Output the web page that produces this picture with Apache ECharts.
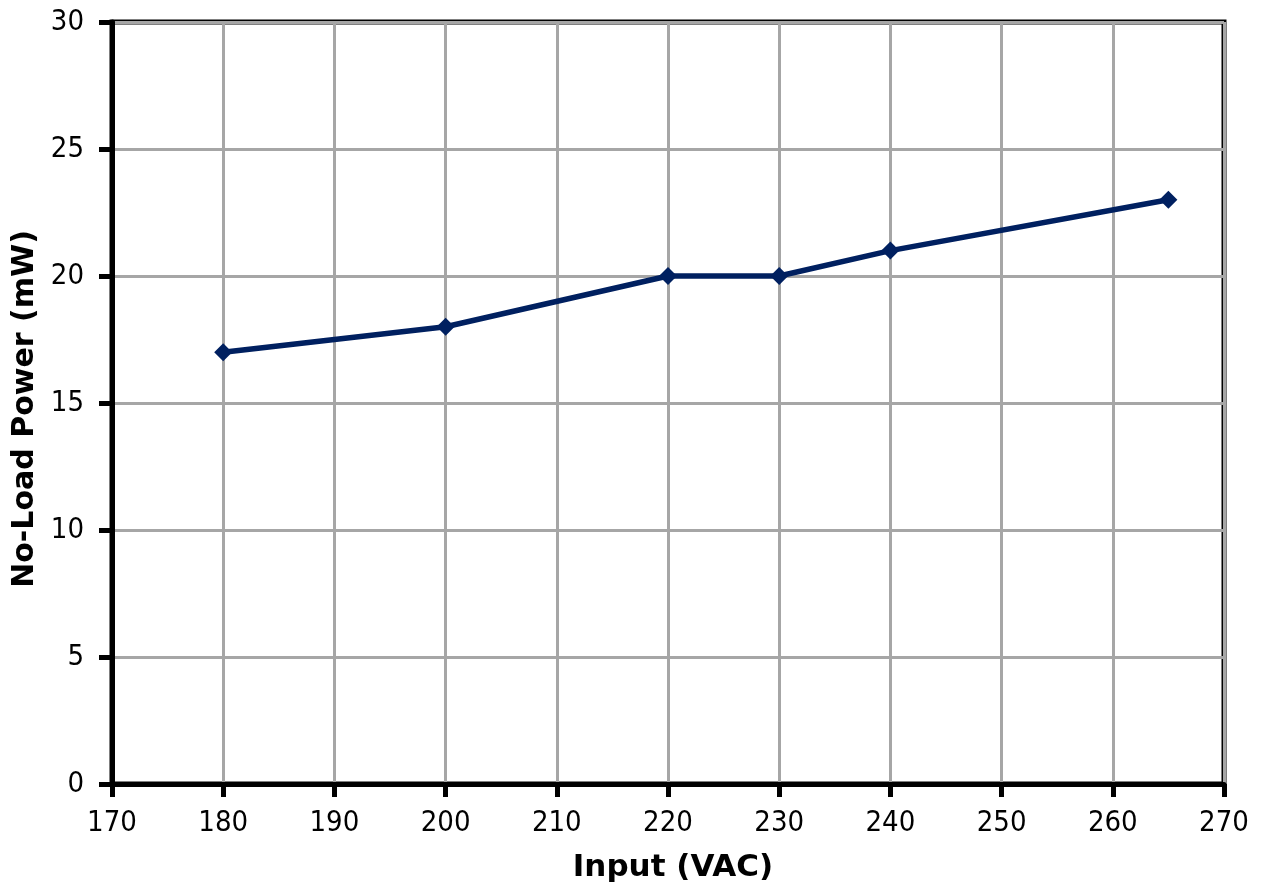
<!DOCTYPE html>
<html><head><meta charset="utf-8">
<script src="https://cdn.jsdelivr.net/npm/echarts@6/dist/echarts.min.js"></script>
<style>html,body{margin:0;padding:0;background:#fff}#c{width:1266px;height:888px}</style>
</head><body><div id="c"></div>
<script>
const inputVAC = [180, 200, 220, 230, 240, 265];
const noLoadPower = [17, 18, 20, 20, 21, 23];
const xTitle = 'Input (VAC)';
const yTitle = 'No-Load Power (mW)';

const chart = echarts.init(document.getElementById('c'));
const lblFont = '"DejaVu Sans Condensed", "DejaVu Sans", sans-serif';
const ttlFont = '"DejaVu Sans", sans-serif';
chart.setOption({
  animation: false,
  grid: { left: 112, right: 42, top: 22, bottom: 104, show: true, borderColor: '#000', borderWidth: 5, backgroundColor: '#fff' },
  xAxis: {
    type: 'value', min: 170, max: 270, interval: 10,
    name: xTitle, nameLocation: 'middle', nameGap: 68,
    nameTextStyle: { fontFamily: ttlFont, fontWeight: 'bold', fontSize: 31, color: '#000', padding: [0, 0, 0, 10] },
    axisLine: { show: true, lineStyle: { color: '#000', width: 5 } },
    axisTick: { show: true, length: 13, lineStyle: { color: '#000', width: 5 } },
    axisLabel: { fontFamily: lblFont, fontSize: 29, color: '#000', margin: 25 },
    splitLine: { show: true, lineStyle: { color: '#a6a6a6', width: 3 } }
  },
  yAxis: {
    type: 'value', min: 0, max: 30, interval: 5,
    name: yTitle, nameLocation: 'middle', nameGap: 67,
    nameTextStyle: { fontFamily: ttlFont, fontWeight: 'bold', fontSize: 30, color: '#000', padding: [0, 12, 0, 0] },
    axisLine: { show: true, lineStyle: { color: '#000', width: 5 } },
    axisTick: { show: true, length: 13, lineStyle: { color: '#000', width: 5 } },
    axisLabel: { fontFamily: lblFont, fontSize: 29, color: '#000', margin: 28 },
    splitLine: { show: true, lineStyle: { color: '#a6a6a6', width: 3 } }
  },
  series: [{
    type: 'line',
    data: inputVAC.map((x, i) => [x, noLoadPower[i]]),
    symbol: 'diamond', symbolSize: 18,
    itemStyle: { color: '#002060' },
    lineStyle: { color: '#002060', width: 5.5 }
  }]
});
</script></body></html>
